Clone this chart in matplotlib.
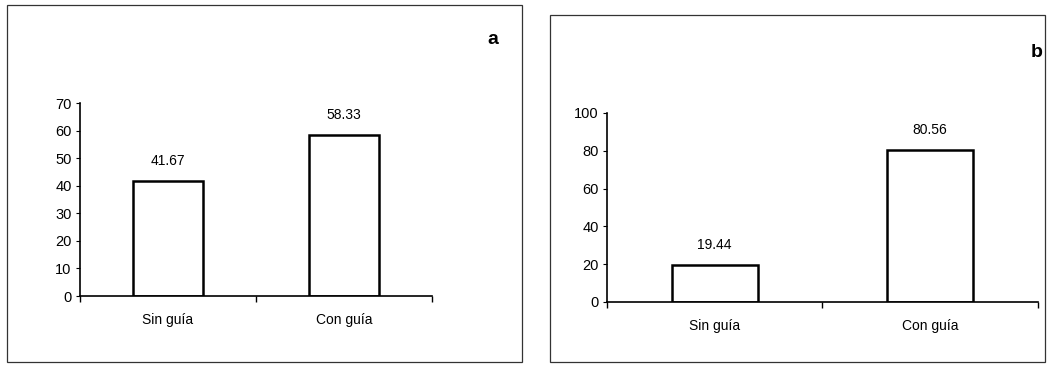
import matplotlib
matplotlib.use("Agg")
import matplotlib.pyplot as plt
from matplotlib.patches import Rectangle

plt.rcParams['font.family'] = ['Liberation Sans', 'DejaVu Sans']

# data
categories = ["Sin guía", "Con guía"]
values_a = [41.67, 58.33]
values_b = [19.44, 80.56]
labels_a = ["41.67", "58.33"]
labels_b = ["19.44", "80.56"]

fig = plt.figure(figsize=(10.47, 3.7), dpi=100)

# outer frames of the two panels
fig.patches.append(Rectangle((0.0067, 0.0216), 0.492, 0.965, transform=fig.transFigure,
                             fill=False, edgecolor="#333333", linewidth=0.9))
fig.patches.append(Rectangle((0.5253, 0.0216), 0.473, 0.938, transform=fig.transFigure,
                             fill=False, edgecolor="#333333", linewidth=0.9))


def draw_panel(rect, vals, labs, ymax, step, letter, letter_pos):
    ax = fig.add_axes(rect)
    x = range(len(categories))
    ax.bar(x, vals, width=0.4, color="white", edgecolor="black", linewidth=1.8)
    for xi, v, lab in zip(x, vals, labs):
        ax.text(xi, v + ymax * 0.07, lab, ha="center", va="bottom", fontsize=10)
    ax.set_xlim(-0.5, 1.5)
    ax.set_ylim(0, ymax)
    ax.set_yticks(range(0, ymax + 1, step))
    ax.set_xticks([-0.5, 0.5, 1.5])
    ax.set_xticklabels([])
    ax.set_xticks([0, 1], minor=True)
    ax.set_xticklabels(categories, minor=True)
    ax.tick_params(axis="x", which="minor", length=0, pad=12, labelsize=10)
    ax.tick_params(axis="x", which="major", length=4, direction="out", width=1)
    ax.tick_params(axis="y", length=3, direction="out", width=0.8, labelsize=10.5, pad=3)
    ax.spines["top"].set_visible(False)
    ax.spines["right"].set_visible(False)
    ax.spines["left"].set_linewidth(1.2)
    ax.spines["bottom"].set_linewidth(1.2)
    fig.text(letter_pos[0], letter_pos[1], letter, fontsize=14, fontweight="bold",
             ha="center", va="center")
    return ax


draw_panel([0.0764, 0.2, 0.3362, 0.5216], values_a, labels_a, 70, 10, "a", (0.471, 0.894))
draw_panel([0.5797, 0.1838, 0.4117, 0.5108], values_b, labels_b, 100, 20, "b", (0.990, 0.859))

plt.savefig("out.png", dpi=100)
